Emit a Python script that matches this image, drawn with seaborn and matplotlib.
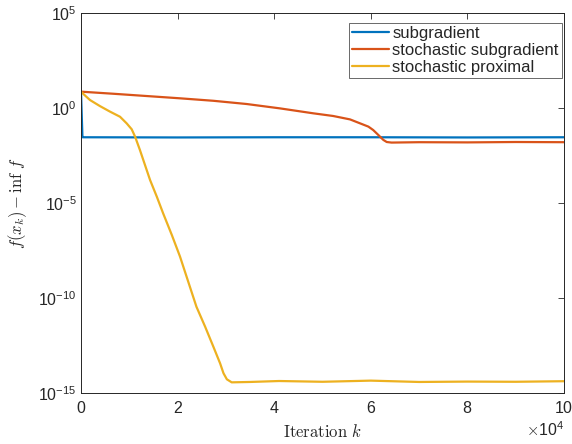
import numpy as np
import pandas as pd
import seaborn as sns
import matplotlib
matplotlib.use("Agg")
import matplotlib.pyplot as plt
from matplotlib.ticker import ScalarFormatter, FixedLocator, NullLocator

# values (iterations, log10 of f(x_k) - inf f)
sub_iter = [0, 300, 400, 20000, 40000, 60000, 80000, 100000]
sub_log10 = [0.86, -1.54, -1.54, -1.55, -1.54, -1.54, -1.55, -1.54]

stoch_iter = [0, 6700, 13600, 20500, 27400, 34300, 41200, 48100, 52200, 55700, 57800, 59500,
              60500, 61560, 62600, 63300, 64300, 70000, 80000, 90000, 100000]
stoch_log10 = [0.86, 0.75, 0.63, 0.51, 0.38, 0.21, -0.02, -0.28, -0.42, -0.60, -0.81, -0.98,
               -1.16, -1.42, -1.68, -1.79, -1.82, -1.80, -1.81, -1.79, -1.80]

prox_iter = [0, 480, 1860, 3930, 6000, 8080, 9460, 10500, 11200, 12200, 13250, 14300, 15700,
             17000, 18800, 20500, 22200, 23900, 25700, 27400, 28800, 29500, 30200, 31200,
             35000, 41000, 50000, 60000, 70000, 80000, 90000, 100000]
prox_log10 = [0.86, 0.74, 0.42, 0.10, -0.19, -0.46, -0.81, -1.12, -1.51, -2.21, -3.00, -3.79, -4.67,
              -5.54, -6.68, -7.82, -9.14, -10.46, -11.51, -12.56, -13.44, -13.96, -14.28, -14.44,
              -14.42, -14.37, -14.41, -14.35, -14.42, -14.40, -14.41, -14.38]

labels = ["subgradient", "stochastic subgradient", "stochastic proximal"]
colors = ["#0072BD", "#D95319", "#EDB120"]

frames = []
for name, xs, ys in zip(labels, [sub_iter, stoch_iter, prox_iter], [sub_log10, stoch_log10, prox_log10]):
    frames.append(pd.DataFrame({"iter": xs, "gap": 10.0 ** np.array(ys), "method": name}))
df = pd.concat(frames, ignore_index=True)

sns.set_style("white")
plt.rcParams["font.family"] = ["Liberation Sans", "DejaVu Sans"]
plt.rcParams["mathtext.fontset"] = "cm"
plt.rcParams["axes.unicode_minus"] = False
plt.rcParams["axes.edgecolor"] = "#262626"
plt.rcParams["xtick.color"] = "#262626"
plt.rcParams["ytick.color"] = "#262626"

fig = plt.figure(figsize=(5.72, 4.44), dpi=100)
ax = fig.add_axes([0.1416, 0.1149, 0.8444, 0.8558])

sns.lineplot(data=df, x="iter", y="gap", hue="method", hue_order=labels,
             palette=colors, estimator=None, sort=False, linewidth=1.6, ax=ax)

ax.set_yscale("log")
ax.set_xlim(0, 100000)
ax.set_ylim(1e-15, 1e5)
ax.yaxis.set_major_locator(FixedLocator([1e-15, 1e-10, 1e-5, 1e0, 1e5]))
ax.yaxis.set_minor_locator(NullLocator())
ax.set_xticks([0, 20000, 40000, 60000, 80000, 100000])
fmt = ScalarFormatter(useMathText=True)
fmt.set_powerlimits((4, 4))
ax.xaxis.set_major_formatter(fmt)
ax.xaxis.get_offset_text().set_fontsize(11.5)

ax.tick_params(direction="in", length=4, width=0.6, labelsize=11.5, top=True, right=True)
ax.tick_params(axis="x", pad=5)
ax.tick_params(axis="y", pad=3)
for sp in ax.spines.values():
    sp.set_linewidth(0.7)
    sp.set_visible(True)

ax.set_xlabel(r"$\mathrm{Iteration}\ k$", fontsize=12, labelpad=5)
ax.set_ylabel(r"$f(x_k) - \inf\, f$", fontsize=12, labelpad=7)

leg = ax.legend(loc="upper right", bbox_to_anchor=(0.996, 0.974), fontsize=12,
                frameon=True, fancybox=False, edgecolor="#262626", handlelength=2.2,
                handletextpad=0.2, borderpad=0.2, labelspacing=0.1, borderaxespad=0)
leg.get_frame().set_linewidth(0.6)

fig.savefig("out.png", dpi=100)
